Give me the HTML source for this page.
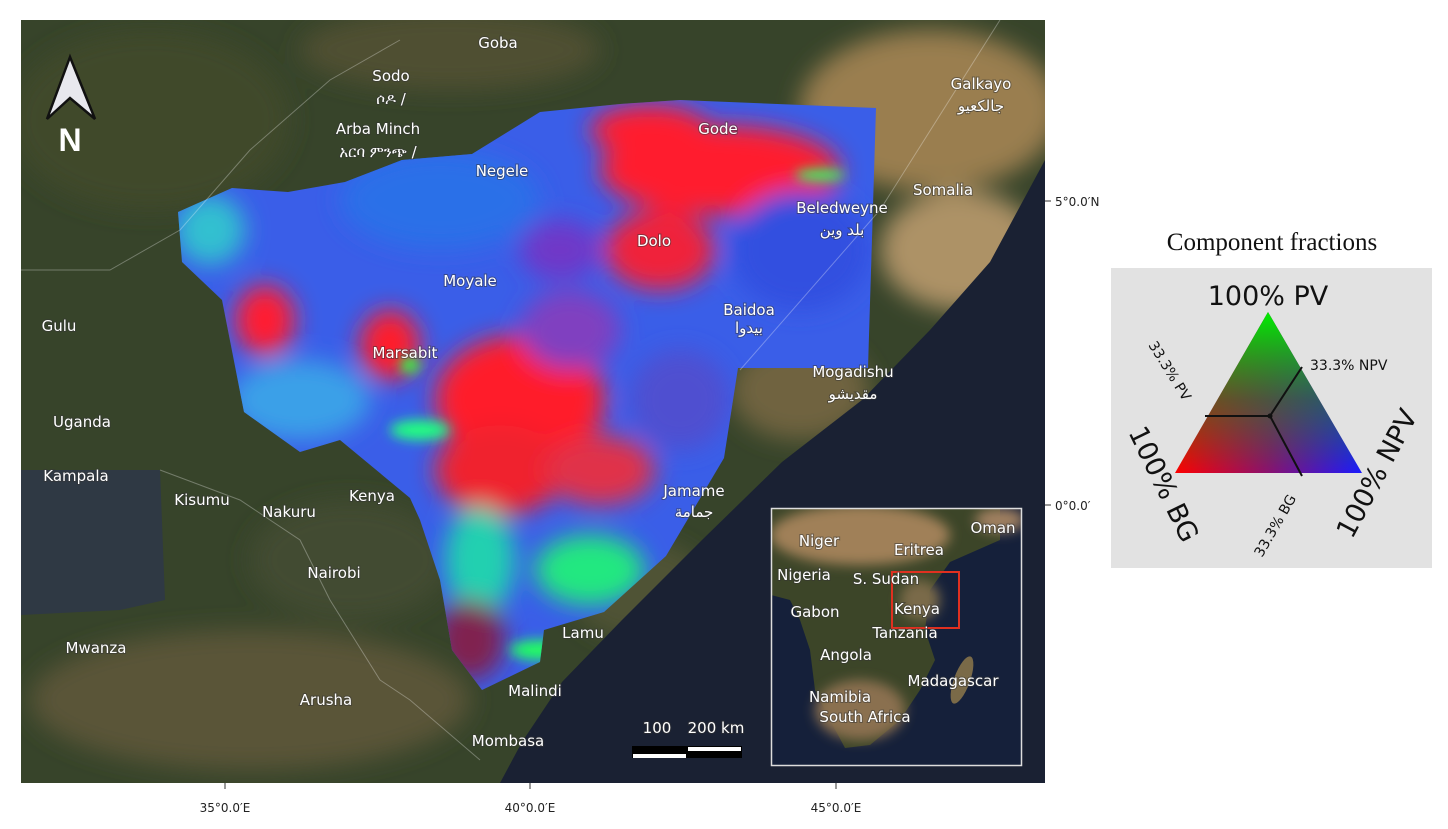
<!DOCTYPE html>
<html><head><meta charset="utf-8">
<style>
body{margin:0;background:#fff;width:1448px;height:824px;overflow:hidden;font-family:"Liberation Sans","DejaVu Sans",sans-serif}
svg text{font-family:"DejaVu Sans","Liberation Sans",sans-serif}
.lbl{fill:#fff;font-size:15px;paint-order:stroke;stroke:#333;stroke-width:2px;stroke-opacity:.5}
.ax{fill:#222;font-size:12px}
</style></head><body>
<svg width="1448" height="824" viewBox="0 0 1448 824">
<defs>
<clipPath id="mapclip"><rect x="21" y="20" width="1024" height="763"/></clipPath>
<clipPath id="cov"><polygon points="178,212 232,188 288,192 345,182 402,160 472,154 540,112 620,104 680,100 876,108 868,368 738,368 724,458 666,556 604,612 544,630 540,662 482,690 452,650 440,580 420,520 410,498 340,440 300,452 244,412 222,300 182,262"/></clipPath>
<clipPath id="insclip"><rect x="771" y="508" width="251" height="258"/></clipPath>
<filter id="blur"><feGaussianBlur stdDeviation="12"/></filter>
<filter id="blur2"><feGaussianBlur stdDeviation="6"/></filter>
<linearGradient id="rb" x1="0" x2="1" y1="0" y2="0"><stop offset="0" stop-color="#ff0000"/><stop offset="0.5" stop-color="#8a1070"/><stop offset="1" stop-color="#1a1aff"/></linearGradient>
<linearGradient id="gt" x1="0" x2="0" y1="0" y2="1"><stop offset="0" stop-color="#00ee00" stop-opacity="1"/><stop offset="0.55" stop-color="#1a8a1a" stop-opacity="0.55"/><stop offset="1" stop-color="#00aa00" stop-opacity="0"/></linearGradient>
</defs>

<g clip-path="url(#mapclip)">
  <rect x="21" y="20" width="1024" height="763" fill="#37442a"/>
  <g filter="url(#blur)">
    <ellipse cx="150" cy="120" rx="140" ry="90" fill="#3f4a2c"/>
    <ellipse cx="450" cy="50" rx="150" ry="40" fill="#4f5032"/>
    <ellipse cx="250" cy="700" rx="220" ry="70" fill="#5a5538"/>
    <ellipse cx="350" cy="560" rx="100" ry="60" fill="#424c30"/>
    <ellipse cx="930" cy="110" rx="130" ry="80" fill="#9a7e50"/>
    <ellipse cx="960" cy="250" rx="80" ry="60" fill="#ad9266"/>
    <ellipse cx="800" cy="390" rx="70" ry="50" fill="#6f6440"/>
    <ellipse cx="640" cy="590" rx="70" ry="50" fill="#4f5234"/>
  </g>
  <polygon points="21,470 160,470 165,600 120,610 21,615" fill="#2f3944"/>
  <polygon points="1045,160 990,262 930,330 862,400 782,462 702,540 622,620 562,682 522,742 500,783 1045,783" fill="#1a2133"/>
  <g clip-path="url(#cov)">
    <rect x="170" y="95" width="710" height="600" fill="#3a5ee8"/>
    <g filter="url(#blur)">
      <ellipse cx="720" cy="170" rx="120" ry="45" fill="#ff1e2e"/>
      <ellipse cx="650" cy="130" rx="60" ry="25" fill="#ff1e2e"/>
      <ellipse cx="660" cy="250" rx="55" ry="40" fill="#f0203a"/>
      <ellipse cx="520" cy="400" rx="85" ry="65" fill="#ff1a2a"/>
      <ellipse cx="500" cy="470" rx="65" ry="45" fill="#f0202e"/>
      <ellipse cx="600" cy="470" rx="55" ry="35" fill="#e0304a"/>
      <ellipse cx="390" cy="345" rx="30" ry="35" fill="#ff1a2a"/>
      <ellipse cx="265" cy="320" rx="30" ry="35" fill="#ff1a30"/>
      <ellipse cx="570" cy="330" rx="50" ry="40" fill="#8040c0"/>
      <ellipse cx="590" cy="570" rx="55" ry="35" fill="#20e880"/>
      <ellipse cx="480" cy="560" rx="35" ry="55" fill="#20d0b0"/>
      <ellipse cx="210" cy="230" rx="35" ry="35" fill="#30c0d0"/>
      <ellipse cx="300" cy="400" rx="70" ry="40" fill="#3aa0e8"/>
      <ellipse cx="440" cy="200" rx="100" ry="50" fill="#2a70e8"/>
      <ellipse cx="800" cy="250" rx="70" ry="60" fill="#3050e0"/>
      <ellipse cx="680" cy="400" rx="50" ry="50" fill="#5050d0"/>
      <ellipse cx="470" cy="640" rx="35" ry="40" fill="#802050"/>
      <ellipse cx="560" cy="250" rx="40" ry="30" fill="#7038c8"/>
    </g>
    <g filter="url(#blur2)">
      <ellipse cx="420" cy="430" rx="30" ry="10" fill="#20ff80"/>
      <ellipse cx="540" cy="650" rx="30" ry="10" fill="#20ff60"/>
      <ellipse cx="820" cy="175" rx="25" ry="6" fill="#30ff60"/>
      <ellipse cx="410" cy="365" rx="10" ry="8" fill="#30ff40"/>
    </g>
  </g>
  <g stroke="#ffffff" stroke-opacity="0.3" fill="none" stroke-width="1">
    <polyline points="21,270 110,270 180,230 250,150 330,80 400,40"/>
    <polyline points="160,470 240,500 300,540 330,600 380,680 410,700 480,760"/>
    <polyline points="740,370 880,210 1000,20"/>
  </g>
  <g>
    <text class="lbl" x="391" y="81" text-anchor="middle">Sodo</text>
    <text class="lbl" x="391" y="104" text-anchor="middle">ሶዶ /</text>
    <text class="lbl" x="378" y="134" text-anchor="middle">Arba Minch</text>
    <text class="lbl" x="378" y="157" text-anchor="middle">አርባ ምንጭ /</text>
    <text class="lbl" x="498" y="48" text-anchor="middle">Goba</text>
    <text class="lbl" x="502" y="176" text-anchor="middle">Negele</text>
    <text class="lbl" x="718" y="134" text-anchor="middle">Gode</text>
    <text class="lbl" x="981" y="89" text-anchor="middle">Galkayo</text>
    <text class="lbl" x="981" y="111" text-anchor="middle">جالكعيو</text>
    <text class="lbl" x="943" y="195" text-anchor="middle">Somalia</text>
    <text class="lbl" x="842" y="213" text-anchor="middle">Beledweyne</text>
    <text class="lbl" x="842" y="235" text-anchor="middle">بلد وين</text>
    <text class="lbl" x="654" y="246" text-anchor="middle">Dolo</text>
    <text class="lbl" x="470" y="286" text-anchor="middle">Moyale</text>
    <text class="lbl" x="749" y="315" text-anchor="middle">Baidoa</text>
    <text class="lbl" x="749" y="333" text-anchor="middle">بيدوا</text>
    <text class="lbl" x="59" y="331" text-anchor="middle">Gulu</text>
    <text class="lbl" x="405" y="358" text-anchor="middle">Marsabit</text>
    <text class="lbl" x="853" y="377" text-anchor="middle">Mogadishu</text>
    <text class="lbl" x="853" y="399" text-anchor="middle">مقديشو</text>
    <text class="lbl" x="82" y="427" text-anchor="middle">Uganda</text>
    <text class="lbl" x="76" y="481" text-anchor="middle">Kampala</text>
    <text class="lbl" x="202" y="505" text-anchor="middle">Kisumu</text>
    <text class="lbl" x="372" y="501" text-anchor="middle">Kenya</text>
    <text class="lbl" x="289" y="517" text-anchor="middle">Nakuru</text>
    <text class="lbl" x="694" y="496" text-anchor="middle">Jamame</text>
    <text class="lbl" x="694" y="517" text-anchor="middle">جمامة</text>
    <text class="lbl" x="334" y="578" text-anchor="middle">Nairobi</text>
    <text class="lbl" x="583" y="638" text-anchor="middle">Lamu</text>
    <text class="lbl" x="96" y="653" text-anchor="middle">Mwanza</text>
    <text class="lbl" x="535" y="696" text-anchor="middle">Malindi</text>
    <text class="lbl" x="326" y="705" text-anchor="middle">Arusha</text>
    <text class="lbl" x="508" y="746" text-anchor="middle">Mombasa</text>
  </g>
  <g>
    <polygon points="70,57 47,119 70,98 95,119" fill="#e8e8ee" stroke="#111" stroke-width="2.5"/>
    <text x="70" y="151" text-anchor="middle" fill="#fff" font-size="32" font-weight="bold" style="font-family:'Liberation Sans',sans-serif">N</text>
  </g>
  <g>
    <text class="lbl" x="657" y="733" text-anchor="middle">100</text>
    <text class="lbl" x="716" y="733" text-anchor="middle">200 km</text>
    <rect x="632" y="746" width="110" height="12" fill="#000"/>
    <rect x="633" y="754" width="53" height="4" fill="#fff"/>
    <rect x="688" y="747" width="53" height="4" fill="#fff"/>
  </g>
  <g>
    <rect x="771" y="508" width="251" height="258" fill="#15203a"/>
    <g clip-path="url(#insclip)">
      <polygon points="771,508 1000,508 1000,540 950,562 930,590 925,630 935,660 920,690 900,720 870,745 845,748 830,720 815,690 810,650 800,620 790,600 771,595" fill="#3c4528"/>
      <g filter="url(#blur2)">
        <ellipse cx="860" cy="535" rx="90" ry="30" fill="#a08058"/>
        <ellipse cx="860" cy="710" rx="45" ry="30" fill="#8a7050"/>
        <ellipse cx="1000" cy="520" rx="25" ry="12" fill="#a08060"/>
        <ellipse cx="920" cy="600" rx="20" ry="20" fill="#7a6a4a"/>
      </g>
      <ellipse cx="962" cy="680" rx="8" ry="25" fill="#7a6a48" transform="rotate(20 962 680)"/>
    </g>
    <rect x="892" y="572" width="67" height="56" fill="none" stroke="#e03020" stroke-width="2"/>
    <g font-size="14">
      <text class="lbl" x="819" y="546" text-anchor="middle">Niger</text>
      <text class="lbl" x="919" y="555" text-anchor="middle">Eritrea</text>
      <text class="lbl" x="993" y="533" text-anchor="middle">Oman</text>
      <text class="lbl" x="804" y="580" text-anchor="middle">Nigeria</text>
      <text class="lbl" x="886" y="584" text-anchor="middle">S. Sudan</text>
      <text class="lbl" x="815" y="617" text-anchor="middle">Gabon</text>
      <text class="lbl" x="917" y="614" text-anchor="middle">Kenya</text>
      <text class="lbl" x="905" y="638" text-anchor="middle">Tanzania</text>
      <text class="lbl" x="846" y="660" text-anchor="middle">Angola</text>
      <text class="lbl" x="953" y="686" text-anchor="middle">Madagascar</text>
      <text class="lbl" x="840" y="702" text-anchor="middle">Namibia</text>
      <text class="lbl" x="865" y="722" text-anchor="middle">South Africa</text>
    </g>
    <rect x="771.5" y="508.5" width="250" height="257" fill="none" stroke="#ddd" stroke-width="1.5"/>
  </g>
</g>
<g>
  <line x1="225" y1="783" x2="225" y2="789" stroke="#333"/>
  <line x1="530" y1="783" x2="530" y2="789" stroke="#333"/>
  <line x1="836" y1="783" x2="836" y2="789" stroke="#333"/>
  <line x1="1045" y1="201" x2="1051" y2="201" stroke="#333"/>
  <line x1="1045" y1="505" x2="1051" y2="505" stroke="#333"/>
  <text class="ax" x="225" y="812" text-anchor="middle">35°0.0′E</text>
  <text class="ax" x="530" y="812" text-anchor="middle">40°0.0′E</text>
  <text class="ax" x="836" y="812" text-anchor="middle">45°0.0′E</text>
  <text class="ax" x="1055" y="206">5°0.0′N</text>
  <text class="ax" x="1055" y="510">0°0.0′</text>
</g>

<text x="1272" y="250" text-anchor="middle" font-size="25" fill="#111" style="font-family:'Liberation Serif',serif">Component fractions</text>
<g>
  <rect x="1111" y="268" width="321" height="300" fill="#e2e2e2"/>
  <polygon points="1268,312 1175,473 1362,473" fill="url(#rb)"/>
  <polygon points="1268,312 1175,473 1362,473" fill="url(#gt)"/>
  <g stroke="#111" stroke-width="2" fill="none">
    <line x1="1270" y1="416" x2="1205" y2="416"/>
    <line x1="1270" y1="416" x2="1302" y2="367"/>
    <line x1="1270" y1="416" x2="1302" y2="476"/>
  </g>
  <circle cx="1270" cy="416" r="2.5" fill="#111"/>
  <text x="1268" y="305" text-anchor="middle" font-size="27" fill="#111">100% PV</text>
  <text x="1310" y="370" font-size="14" fill="#111">33.3% NPV</text>
  <text transform="translate(1148,345) rotate(58)" font-size="14" fill="#111">33.3% PV</text>
  <text transform="translate(1128,432) rotate(64)" font-size="27" fill="#111">100% BG</text>
  <text transform="translate(1262,558) rotate(-60)" font-size="14" fill="#111">33.3% BG</text>
  <text transform="translate(1352,540) rotate(-62)" font-size="27" fill="#111">100% NPV</text>
</g>
</svg>
</body></html>
